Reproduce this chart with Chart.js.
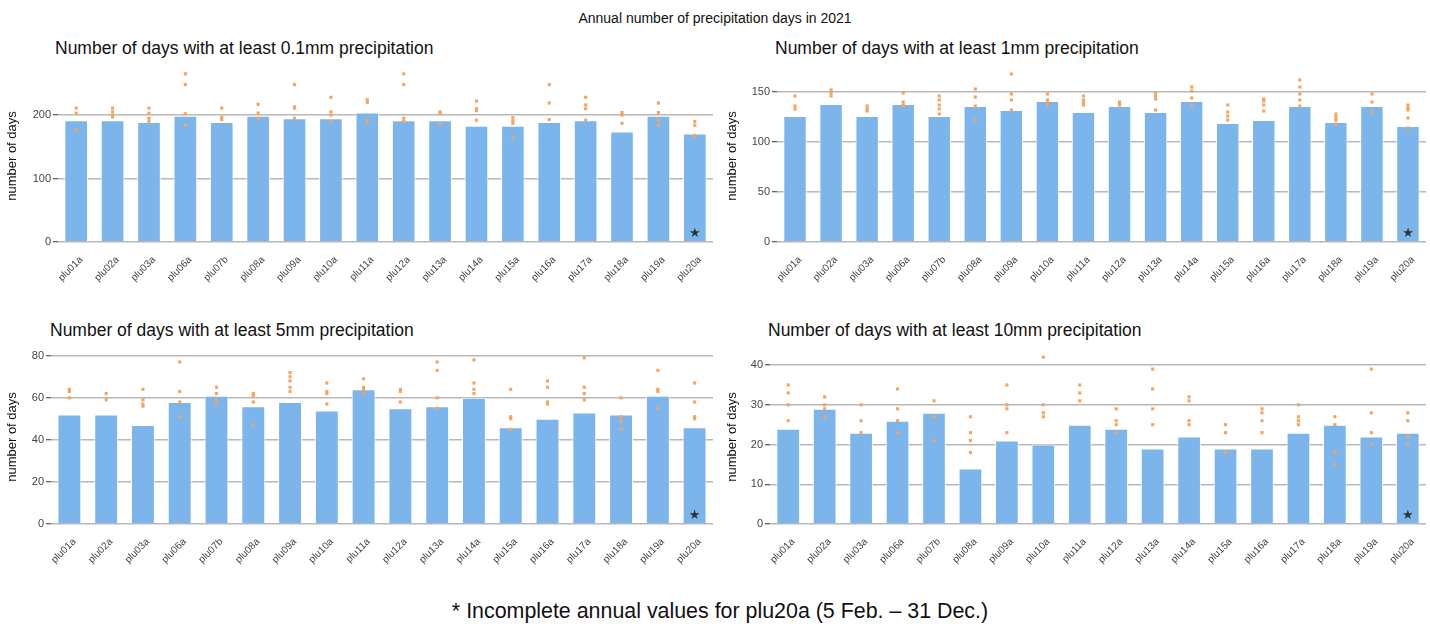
<!DOCTYPE html>
<html>
<head>
<meta charset="utf-8">
<script src="https://cdn.jsdelivr.net/npm/chart.js@4"></script>
<style>
    body { margin: 0; background: #fff; width: 1430px; height: 624px; overflow: hidden; position: relative; font-family: "Liberation Sans", Arial, sans-serif; }
    canvas { position: absolute; }
    .txt { position: absolute; white-space: nowrap; color: #111; }
    .main { font-family: "Liberation Sans Narrow", "Liberation Sans", sans-serif; font-size: 14px; left: 0; width: 1430px; text-align: center; top: 10px; }
    .ptitle { font-family: "Liberation Sans Narrow", "Liberation Sans", sans-serif; font-size: 17.5px; }
    .foot { font-size: 21.4px; left: 0; width: 1440px; text-align: center; top: 599px; color: #111; }
</style>
</head>
<body>
<div class="txt main">Annual number of precipitation days in 2021</div>
<div class="txt ptitle" style="left:55px; top:38px;">Number of days with at least 0.1mm precipitation</div>
<div class="txt ptitle" style="left:775px; top:38px;">Number of days with at least 1mm precipitation</div>
<div class="txt ptitle" style="left:50px; top:320px;">Number of days with at least 5mm precipitation</div>
<div class="txt ptitle" style="left:768px; top:320px;">Number of days with at least 10mm precipitation</div>
<canvas id="c01" width="720" height="242" style="left:0px; top:58px;"></canvas>
<canvas id="c1" width="710" height="242" style="left:720px; top:58px;"></canvas>
<canvas id="c5" width="720" height="250" style="left:0px; top:340px;"></canvas>
<canvas id="c10" width="710" height="250" style="left:720px; top:340px;"></canvas>
<div class="txt foot">* Incomplete annual values for plu20a (5 Feb. &ndash; 31 Dec.)</div>

<script>
// 測站
const stations = ['plu01a', 'plu02a', 'plu03a', 'plu06a', 'plu07b', 'plu08a', 'plu09a', 'plu10a', 'plu11a',
    'plu12a', 'plu13a', 'plu14a', 'plu15a', 'plu16a', 'plu17a', 'plu18a', 'plu19a', 'plu20a'];

// 2021 年數值（柱）
const days01mm = [192, 192, 189, 199, 189, 199, 195, 195, 204, 192, 192, 183, 183, 189, 192, 174, 199, 171];
const days1mm = [126, 138, 126, 138, 126, 136, 132, 141, 130, 136, 130, 141, 119, 122, 136, 120, 136, 116];
const days5mm = [52, 52, 47, 58, 61, 56, 58, 54, 64, 55, 56, 60, 46, 50, 53, 52, 61, 46];
const days10mm = [24, 29, 23, 26, 28, 14, 21, 20, 25, 24, 19, 22, 19, 19, 23, 25, 22, 23];

// 其他年份（橘色點）
const other01mm = [[211, 203, 177], [211, 205, 200, 197], [211, 203, 195, 190], [265, 248, 202, 184], [211, 197, 193],
    [217, 203, 195], [248, 213, 211, 195], [228, 205, 200, 190], [224, 220, 192, 190], [265, 248, 195, 190],
    [205, 202, 185], [222, 210, 207, 192], [196, 191, 187, 165], [248, 219, 193], [228, 216, 210, 192],
    [204, 200, 187], [219, 204, 192, 184], [190, 184, 168, 166]];
const other1mm = [[146, 136, 133], [152, 149, 146], [136, 133, 131], [149, 140, 137, 136], [146, 142, 137, 133, 128],
    [153, 145, 136, 122], [168, 148, 142, 132], [148, 142, 139, 137], [146, 142, 139, 137], [140, 138, 137],
    [149, 146, 143, 132], [155, 151, 144, 136], [137, 130, 126, 122], [143, 141, 137, 131], [162, 155, 148, 142, 136],
    [128, 125, 122, 118], [148, 140, 130], [137, 134, 132, 124, 114]];
const other5mm = [[64, 63, 60], [62, 59], [64, 59, 57, 56], [77, 63, 58, 51], [65, 62, 59, 57], [62, 61, 58, 47],
    [72, 70, 68, 65, 63], [67, 63, 62, 57], [69, 65, 64, 62], [64, 63, 58], [77, 73, 60, 55], [78, 67, 64, 62],
    [64, 51, 50, 45], [68, 65, 58, 57], [79, 65, 62, 59], [60, 51, 49, 45], [73, 64, 63, 55], [67, 58, 51, 50]];
const other10mm = [[35, 33, 30, 26], [32, 30, 29, 27], [30, 26, 23], [34, 29, 26, 23], [31, 27, 21], [27, 23, 21, 18],
    [35, 30, 29, 23], [42, 30, 28, 27], [35, 33, 31], [29, 26, 25, 23], [39, 34, 29, 25], [32, 31, 26, 25],
    [25, 23, 18], [29, 28, 26, 23], [30, 27, 26, 25], [27, 25, 18, 15], [39, 28, 23, 20], [28, 26, 22, 20]];

// 不完整年份的測站
const incompleteStation = 'plu20a';

// 在不完整測站的柱上畫星號
const starPlugin = {
    id: 'star',
    afterDatasetsDraw(chart) {
        const x = chart.scales.x.getPixelForValue(stations.indexOf(incompleteStation));
        const ctx = chart.ctx;
        ctx.save();
        ctx.fillStyle = '#333';
        ctx.font = '13px "DejaVu Sans", sans-serif';
        ctx.textAlign = 'center';
        ctx.textBaseline = 'middle';
        ctx.fillText('★', x, chart.chartArea.bottom - 8);
        ctx.restore();
    }
};

function flatten(groups) {
    const pts = [];
    groups.forEach((vals, i) => vals.forEach(v => pts.push({ x: stations[i], y: v })));
    return pts;
}

function makePanel(id, values, others, cfg) {
    const ctx = document.getElementById(id).getContext('2d');
    return new Chart(ctx, {
        type: 'bar',
        data: {
            labels: stations,
            datasets: [
                {
                    type: 'line',
                    data: flatten(others),
                    showLine: false,
                    pointStyle: 'rect',
                    pointRadius: 2.2,
                    pointBackgroundColor: '#f7a35c',
                    pointBorderWidth: 0,
                    order: 0
                },
                {
                    data: values,
                    backgroundColor: '#7cb5ec',
                    borderColor: '#ffffff',
                    borderWidth: 1,
                    barPercentage: 0.65,
                    categoryPercentage: 1,
                    order: 1
                }
            ]
        },
        options: {
            responsive: false,
            animation: false,
            devicePixelRatio: 1,
            layout: { padding: { top: cfg.padTop, right: cfg.padRight, left: 0, bottom: 0 } },
            plugins: { legend: { display: false }, tooltip: { enabled: false } },
            scales: {
                x: {
                    grid: { display: false },
                    border: { display: false },
                    ticks: {
                        color: '#444',
                        font: { family: 'Liberation Sans', size: 10 },
                        maxRotation: 45,
                        minRotation: 45,
                        padding: 4,
                        labelOffset: 5
                    },
                    afterFit(scale) { scale.height = cfg.xHeight; }
                },
                y: {
                    min: 0,
                    max: cfg.max,
                    border: { display: false },
                    grid: {
                        color: '#b8b8b8',
                        lineWidth: 1.5,
                        tickColor: '#333',
                        tickLength: 5,
                        tickWidth: 1
                    },
                    ticks: {
                        color: '#444',
                        padding: 2,
                        font: { family: 'Liberation Sans', size: 11 }
                    },
                    afterBuildTicks(axis) {
                        const ticks = [];
                        for (let v = 0; v <= cfg.max; v += cfg.step) ticks.push({ value: v });
                        axis.ticks = ticks;
                    },
                    title: {
                        display: true,
                        text: 'number of days',
                        color: '#111',
                        font: { family: 'Liberation Sans', size: 13 },
                        padding: { top: 5, bottom: 0 }
                    },
                    afterFit(scale) { scale.width = cfg.yWidth; }
                }
            }
        },
        plugins: [starPlugin]
    });
}

makePanel('c01', days01mm, other01mm, { max: 271, step: 100, padTop: 12, padRight: 7, xHeight: 58, yWidth: 58 });
makePanel('c1', days1mm, other1mm, { max: 172, step: 50, padTop: 12, padRight: 1, xHeight: 58, yWidth: 57 });
makePanel('c5', days5mm, other5mm, { max: 82.7, step: 20, padTop: 10, padRight: 7, xHeight: 66, yWidth: 51 });
makePanel('c10', days10mm, other10mm, { max: 43.8, step: 10, padTop: 10, padRight: 2, xHeight: 66, yWidth: 50 });
</script>
</body>
</html>
